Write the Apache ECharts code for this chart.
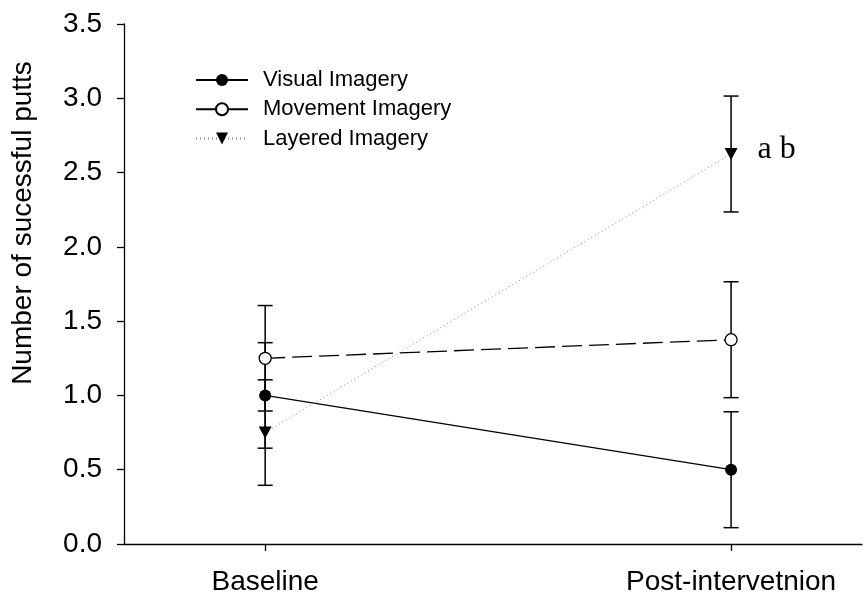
<!DOCTYPE html>
<html>
<head>
<meta charset="utf-8">
<script src="https://cdn.jsdelivr.net/npm/echarts@6/dist/echarts.min.js"></script>
<style>html,body{margin:0;padding:0;background:#fff}#c{width:867px;height:598px}</style>
</head>
<body>
<div id="c"></div>
<script>
const categories = ['Baseline', 'Post-intervetnion'];
const seriesNames = ['Visual Imagery', 'Movement Imagery', 'Layered Imagery'];
const visualMean = [1.0, 0.5];
const visualErr = [0.355, 0.39];
const movementMean = [1.25, 1.375];
const movementErr = [0.355, 0.39];
const layeredMean = [0.75, 2.625];
const layeredErr = [0.355, 0.39];
const yTickValues = [0, 0.5, 1.0, 1.5, 2.0, 2.5, 3.0, 3.5];
const annotation = 'a b';
const yTitle = 'Number of sucessful putts';

const FONT = 'Liberation Sans, Arial, sans-serif';
const xPos = categories.map((c, i) => i + 1);

function pts(mean) { return mean.map((m, i) => [xPos[i], m]); }
function errPts(mean, err) { return mean.map((m, i) => [xPos[i], m - err[i], m + err[i]]); }

function renderErr(params, api) {
  const x = api.value(0), lo = api.value(1), hi = api.value(2);
  const pLo = api.coord([x, lo]);
  const pHi = api.coord([x, hi]);
  const hw = 7.5;
  const st = { stroke: '#000', lineWidth: 1.5 };
  return {
    type: 'group',
    children: [
      { type: 'line', shape: { x1: pLo[0], y1: pLo[1], x2: pHi[0], y2: pHi[1] }, style: st },
      { type: 'line', shape: { x1: pHi[0] - hw, y1: pHi[1], x2: pHi[0] + hw, y2: pHi[1] }, style: st },
      { type: 'line', shape: { x1: pLo[0] - hw, y1: pLo[1], x2: pLo[0] + hw, y2: pLo[1] }, style: st }
    ]
  };
}

const chart = echarts.init(document.getElementById('c'), null, { renderer: 'canvas' });
const layeredData = pts(layeredMean).map((p, i) => i === layeredMean.length - 1 ? {
  value: p,
  label: {
    show: true, position: 'right', distance: 20, offset: [0, -4],
    formatter: annotation,
    fontFamily: 'Liberation Serif, Times New Roman, serif', fontSize: 32, color: '#000'
  }
} : p);

chart.setOption({
  animation: false,
  backgroundColor: '#fff',
  grid: { left: 124, right: 5, top: 24, bottom: 54, containLabel: false },
  graphic: [{
    type: 'text', x: 23, y: 223, rotation: Math.PI / 2,
    style: { text: yTitle, font: '28px ' + FONT, fill: '#000', textAlign: 'center', textVerticalAlign: 'middle' }
  }],
  legend: {
    orient: 'vertical', left: 195, top: 69, padding: 0,
    itemWidth: 52, itemHeight: 15, itemGap: 7.3, selectedMode: false,
    textStyle: { fontFamily: FONT, fontSize: 22, color: '#000', padding: [0, 0, 0, 10] },
    data: [
      { name: seriesNames[0] },
      { name: seriesNames[1], lineStyle: { type: 'solid' } },
      { name: seriesNames[2] }
    ]
  },
  xAxis: {
    type: 'value', min: 0.697, max: 2.281,
    axisLine: { lineStyle: { color: '#000', width: 1.3 } },
    axisTick: { show: true, length: 7, inside: false, customValues: xPos, lineStyle: { color: '#000', width: 1.3 } },
    axisLabel: {
      customValues: xPos, margin: 24,
      formatter: v => categories[Math.round(v) - 1] || '',
      fontFamily: FONT, fontSize: 28, color: '#000'
    },
    splitLine: { show: false }
  },
  yAxis: {
    type: 'value', min: 0, max: 3.5, interval: 0.5,
    axisLine: { show: true, lineStyle: { color: '#000', width: 1.3 } },
    axisTick: { show: true, length: 7, inside: false, customValues: yTickValues, lineStyle: { color: '#000', width: 1.3 } },
    axisLabel: {
      customValues: yTickValues, margin: 22,
      formatter: v => Number(v).toFixed(1),
      fontFamily: FONT, fontSize: 28, color: '#000'
    },
    splitLine: { show: false }
  },
  series: [
    { type: 'custom', name: 'errV', z: 1, renderItem: renderErr, data: errPts(visualMean, visualErr), silent: true },
    { type: 'custom', name: 'errM', z: 1, renderItem: renderErr, data: errPts(movementMean, movementErr), silent: true },
    { type: 'custom', name: 'errL', z: 1, renderItem: renderErr, data: errPts(layeredMean, layeredErr), silent: true },
    {
      type: 'line', name: seriesNames[0], z: 3, data: pts(visualMean),
      symbol: 'circle', symbolSize: 12, showAllSymbol: true,
      itemStyle: { color: '#000' },
      lineStyle: { color: '#000', width: 1.3, type: 'solid' }
    },
    {
      type: 'line', name: seriesNames[1], z: 3, data: pts(movementMean),
      symbol: 'circle', symbolSize: 12, showAllSymbol: true,
      itemStyle: { color: '#fff', borderColor: '#000', borderWidth: 1.3 },
      lineStyle: { color: '#000', width: 1.3, type: [20, 7] }
    },
    {
      type: 'line', name: seriesNames[2], z: 3, data: layeredData,
      symbol: 'triangle', symbolRotate: 180, symbolSize: [13, 12], showAllSymbol: true,
      itemStyle: { color: '#000' },
      lineStyle: { color: '#888', width: 1, type: [1, 3] }
    }
  ]
});
</script>
</body>
</html>
